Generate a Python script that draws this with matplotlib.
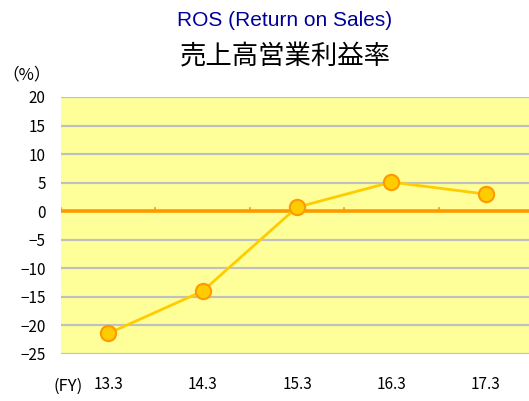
import numpy as np
import matplotlib.pyplot as plt

plt.rcParams['font.family'] = ['Noto Sans CJK JP', 'DejaVu Sans']

# data
years = ['13.3', '14.3', '15.3', '16.3', '17.3']
ros = [-21.4, -14.0, 0.7, 5.1, 3.0]
yticks = [20, 15, 10, 5, 0, -5, -10, -15, -20, -25]

W, H = 529, 401
fig = plt.figure(figsize=(W / 100, H / 100), dpi=100)
# plot area (pixel based)
x0, x1 = 61, 533
y0, y1 = 97, 354
ax = fig.add_axes([x0 / W, 1 - y1 / H, (x1 - x0) / W, (y1 - y0) / H])
ax.set_facecolor('#FFFF99')

x = np.arange(len(years))
ax.set_xlim(-0.5, len(years) - 0.5)
ax.set_ylim(-25, 20)

# grid lines
for v in yticks:
    if v != 0:
        ax.axhline(v, color='#C0C0C0', lw=1.6, zorder=1)
ax.axhline(0, color='#FF9900', lw=2.6, zorder=2)
# small ticks on the zero line
for b in np.arange(-0.5, len(years) - 0.5, 1.0):
    ax.plot([b, b], [0, 0.6], color='#FF9900', lw=1.2, zorder=2)

ax.plot(x, ros, color='#FFCC00', lw=2, zorder=3)
ax.plot(x, ros, ls='none', marker='o', ms=11, mfc='#FFCC00', mec='#FF9900',
        mew=1.5, zorder=4)

for s in ax.spines.values():
    s.set_visible(False)
ax.set_yticks(yticks)
ax.set_yticklabels([str(v).replace('-', '\u2212') for v in yticks], fontsize=11)
ax.set_xticks(x)
ax.set_xticklabels(years, fontsize=11)
ax.tick_params(length=0)
ax.tick_params(axis='y', pad=11)
ax.tick_params(axis='x', pad=16)

fig.text(285 / W, 1 - 20 / H, 'ROS (Return on Sales)', color='#000099',
         fontsize=15, ha='center', va='center', family='Liberation Sans')
fig.text(285 / W, 1 - 57 / H, '売上高営業利益率', color='black',
         fontsize=19, ha='center', va='center')
fig.text(27 / W, 1 - 75 / H, '（%）', fontsize=12, ha='center', va='center')
fig.text(68 / W, 1 - 386 / H, '(FY)', fontsize=12, ha='center', va='center')

fig.savefig('out.png', dpi=100)
